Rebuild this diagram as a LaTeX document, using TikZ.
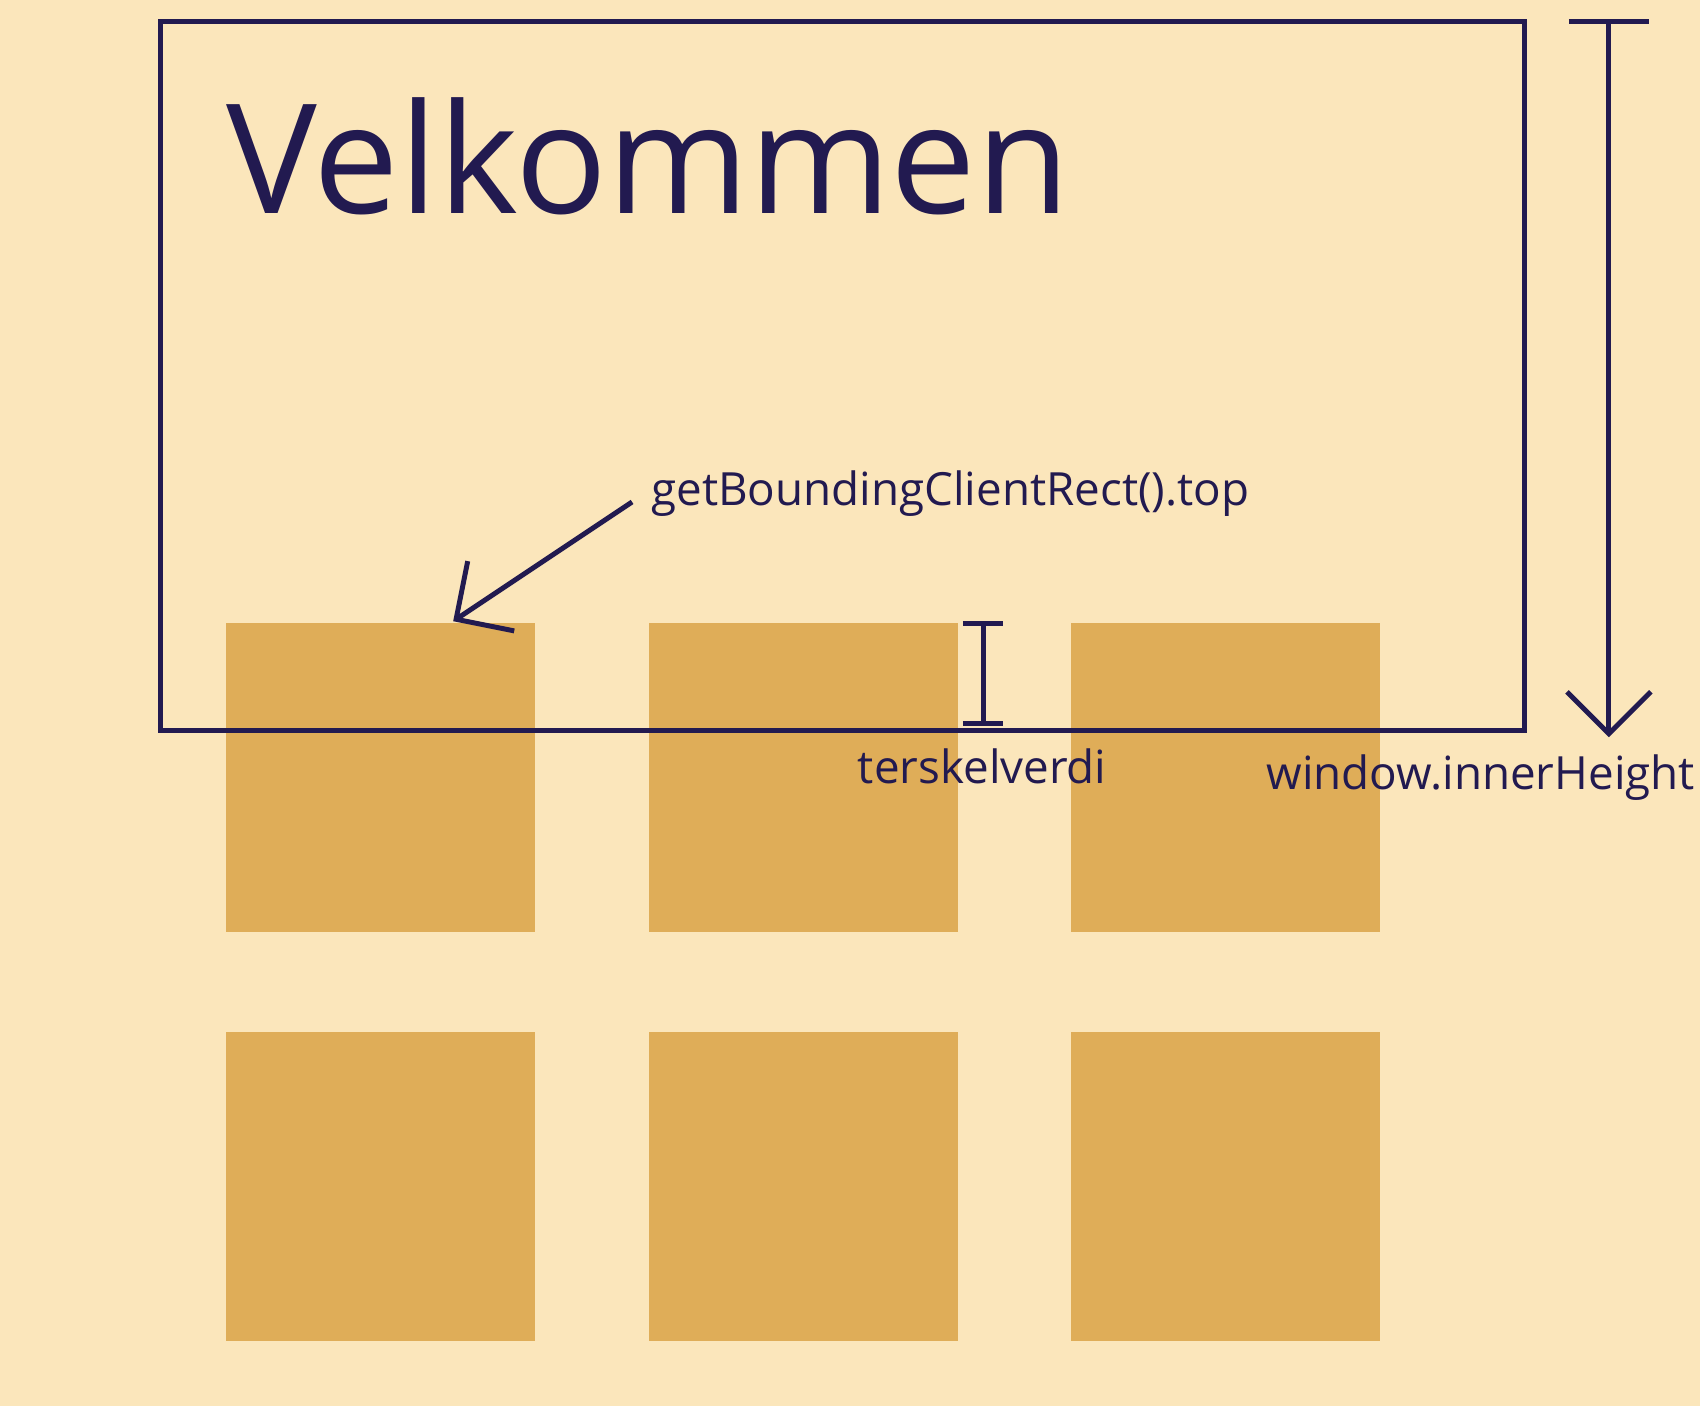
\documentclass[tikz,border=0pt]{standalone}
\usepackage{fontspec}
\setmainfont{Open Sans}
\usetikzlibrary{arrows.meta}
\definecolor{paper}{HTML}{FBE6BB}
\definecolor{ink}{HTML}{221A50}
\definecolor{tile}{HTML}{DFAD58}
\tikzset{
    % frame and marker lines
    line/.style={ink, line width=1.3pt},
    open arrow/.style={line, -{Straight Barb[length=11pt, width=22pt, line width=1.3pt]}},
    % tiles
    tile/.style={fill=tile, draw=none, minimum width=2.85cm, minimum height=2.85cm,
        inner sep=0pt, anchor=north west},
    % labels
    small label/.style={ink, font=\fontsize{12}{14}\selectfont, inner sep=0pt},
}
\begin{document}
\begin{tikzpicture}[x=0.01cm, y=-0.01cm]
    % Background
    \fill[paper] (0,0) rectangle (1568,1297);
    \useasboundingbox (0,0) rectangle (1568,1297);

    % Tiles
    \foreach \row/\y in {1/574, 2/951}
        \foreach \col/\x in {1/208, 2/598, 3/987}
            \node[tile] (tile\row\col) at (\x,\y) {};

    % Viewport frame
    \draw[line] (148,20) rectangle (1406,674);
    \node[ink, anchor=base west, font=\fontsize{40}{46}\selectfont, inner sep=0pt] (title) at (208,197) {Velkommen};

    % getBoundingClientRect arrow
    \node[small label, anchor=west] (rectlabel) at (600,455) {getBoundingClientRect().top};
    \coordinate (rectstart) at (583,463);
    \coordinate (recttop) at (418,573);
    \draw[open arrow] (rectstart) -- (recttop);

    % Threshold marker
    \coordinate (thtop) at (907,575);
    \coordinate (thbot) at (907,667);
    \draw[line] (thtop) -- (thbot);
    \draw[line] (888,575) -- (925,575);
    \draw[line] (888,667) -- (925,667);
    \node[small label] (threshold) at (906,707) {terskelverdi};

    % Window height marker
    \coordinate (wintop) at (1484,20);
    \coordinate (winbot) at (1484,680);
    \draw[line] (1447,20) -- (1521,20);
    \draw[open arrow] (wintop) -- (winbot);
    \node[small label, anchor=east] (winlabel) at (1564,717) {window.innerHeight};
\end{tikzpicture}
\end{document}
